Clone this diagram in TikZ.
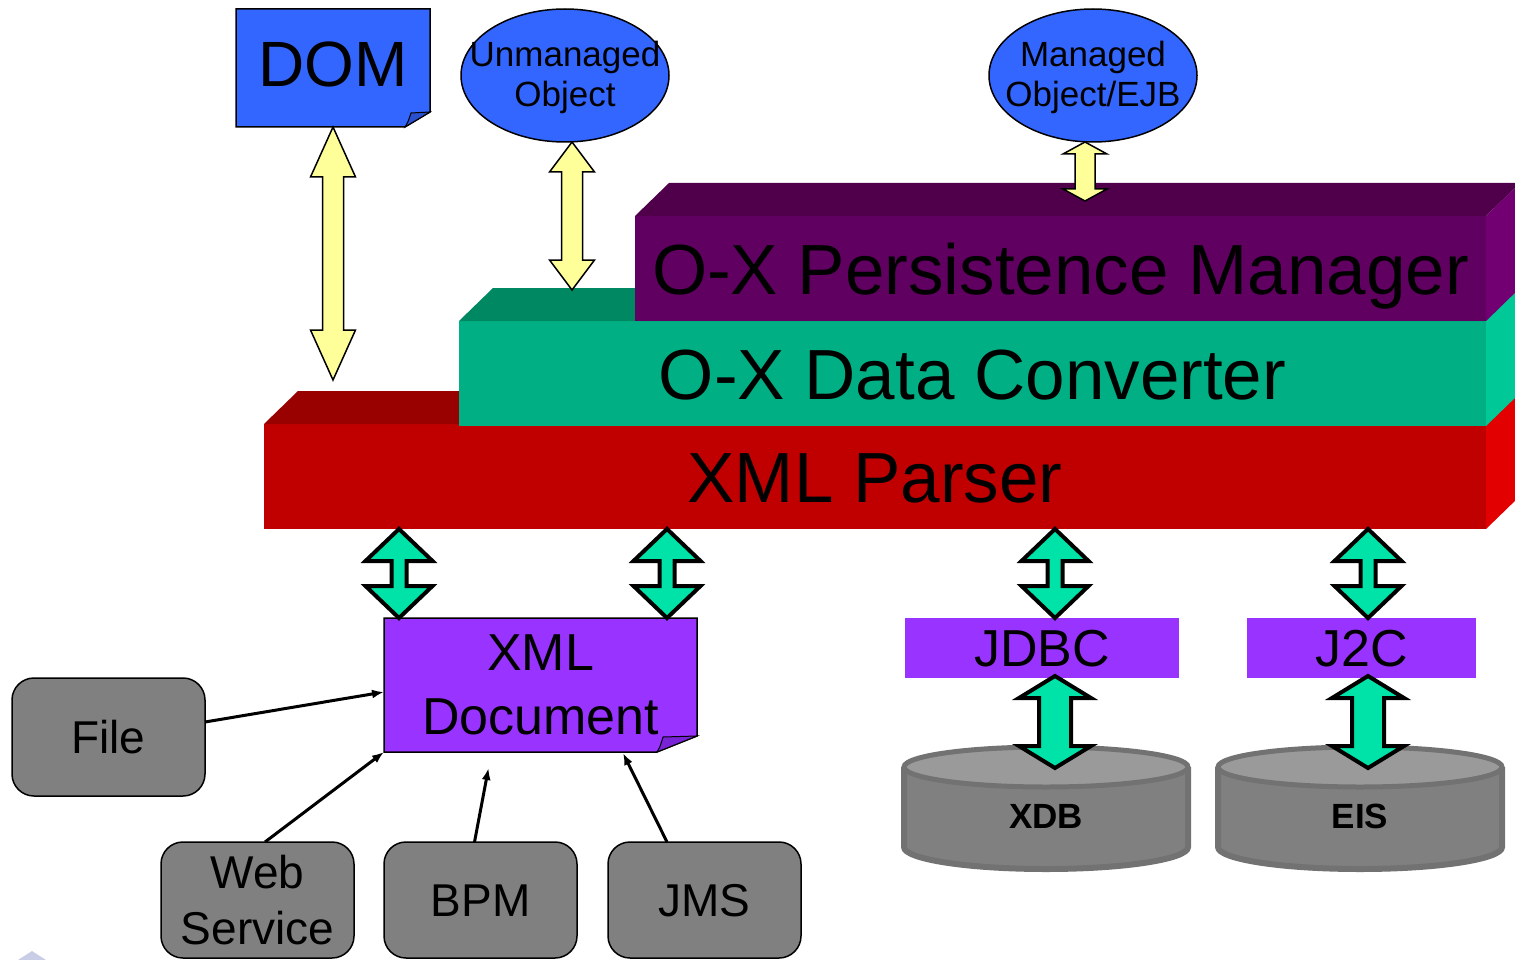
\documentclass[tikz,border=0pt]{standalone}
\usepackage{fontspec}
\setmainfont{Liberation Sans}
\usetikzlibrary{shapes.geometric,arrows.meta,calc}

\definecolor{objblue}{HTML}{3366FF}
\definecolor{foldblue}{HTML}{2A50D0}
\definecolor{pale}{HTML}{FFFF99}
\definecolor{docviolet}{HTML}{9933FF}
\definecolor{foldviolet}{HTML}{7A22D6}
\definecolor{mint}{HTML}{00E3A8}
\definecolor{redfront}{HTML}{C00000}
\definecolor{redtop}{HTML}{990000}
\definecolor{redside}{HTML}{E20000}
\definecolor{greenfront}{HTML}{00B084}
\definecolor{greentop}{HTML}{008862}
\definecolor{greenside}{HTML}{00C896}
\definecolor{plumfront}{HTML}{600060}
\definecolor{plumtop}{HTML}{50004A}
\definecolor{plumside}{HTML}{720072}
\definecolor{slate}{HTML}{808080}
\definecolor{slatelight}{HTML}{9A9A9A}
\definecolor{slateedge}{HTML}{727272}
\definecolor{haze}{HTML}{C9CEE6}

% top and right faces of a 3D slab whose front face is node #1
\newcommand\slabsides[3]{%
  \fill[#2] (#1.north west) -- ++(34,-33) -- ([shift={(34,-33)}]#1.north east) -- (#1.north east) -- cycle;
  \fill[#3] (#1.north east) -- ++(34,-33) -- ([shift={(34,-33)}]#1.south east) -- (#1.south east) -- cycle;}

% sheet with a curled bottom-right corner: nw, se, fill, fold fill, fold dx, fold dy
\newcommand\dogear[6]{%
  \path[fill=#3, draw=black, line width=1.5pt, line join=miter]
    (#1) -| ($(#2)+(0,-#6)$) -- ($(#2)+(-#5,0)$) -- (#1 |- #2) -- cycle;
  \path[fill=#4, draw=black, line width=1pt, line join=miter]
    ($(#2)+(-#5,0)$) .. controls ($(#2)+(-#5+3,-5)$) .. ($(#2)+(-#5+6,-#6+1)$)
    -- ($(#2)+(0,-#6)$) -- cycle;}

% vertical two-headed block arrow: style, top end, bottom end, half head width, head length, half shaft width
\newcommand\duplex[6]{%
  \path[#1] let \p1=(#2), \p2=(#3) in
    (\x1,\y1) -- (\x1+#4pt,\y1-#5pt) -- (\x1+#6pt,\y1-#5pt) -- (\x1+#6pt,\y2+#5pt)
    -- (\x1+#4pt,\y2+#5pt) -- (\x1,\y2) -- (\x1-#4pt,\y2+#5pt) -- (\x1-#6pt,\y2+#5pt)
    -- (\x1-#6pt,\y1-#5pt) -- (\x1-#4pt,\y1-#5pt) -- cycle;}

% database drum: top centre, name, label
\newcommand\drum[3]{%
  \path[fill=slate, draw=slateedge, line width=6pt] ($(#1)+(-142,0)$) -- ++(0,80)
    arc[start angle=180, end angle=360, x radius=142pt, y radius=22pt] -- ++(0,-80);
  \path[fill=slatelight, draw=slateedge, line width=5pt] (#1) ellipse [x radius=142pt, y radius=20pt];
  \node[font=\bfseries\fontsize{35}{40}\selectfont, text height=25pt, text depth=0pt] (#2) at ($(#1)+(0,49)$) {#3};}

\begin{document}
\begin{tikzpicture}[x=1pt,y=-1pt,
  every node/.style={inner sep=0pt, outer sep=0pt},
  layerface/.style={minimum height=105pt, anchor=north west,
    font=\fontsize{71}{80}\selectfont, text height=51pt, text depth=0pt},
  objell/.style={ellipse, draw=black, line width=1.5pt, fill=objblue,
    minimum width=208pt, minimum height=133pt},
  objtext/.style={align=center, font=\fontsize{35}{40}\selectfont},
  source/.style={draw=black, line width=1.5pt, fill=slate, rounded corners=22pt,
    minimum width=193pt, minimum height=116pt, align=center, font=\fontsize{46}{56}\selectfont},
  api/.style={fill=docviolet, minimum height=60pt, font=\fontsize{52}{60}\selectfont,
    text height=37pt, text depth=0pt},
  yellowarrow/.style={draw=black, line width=1.5pt, fill=pale, line join=miter},
  greenarrow/.style={draw=black, line width=4pt, fill=mint, line join=miter},
  feed/.style={line width=3pt, -{Latex[length=12pt,width=9pt]}},
]
\useasboundingbox (0,0) rectangle (1515,960);
\clip (0,0) rectangle (1515,960);

% stacked layers
\node[layerface, fill=redfront, minimum width=1222pt] (parser) at (264,424) {XML Parser};
\slabsides{parser}{redtop}{redside}
\node[layerface, fill=greenfront, minimum width=1027pt] (converter) at (459,321) {O-X Data Converter};
\slabsides{converter}{greentop}{greenside}
\node[layerface, fill=plumfront, minimum width=851pt] (manager) at (635,216) {O-X Persistence Manager};
\slabsides{manager}{plumtop}{plumside}

% DOM sheet
\coordinate (domnw) at (236,9);
\coordinate (domse) at (430,127);
\dogear{domnw}{domse}{objblue}{foldblue}{25}{15}
\node[minimum width=194pt, minimum height=118pt, font=\fontsize{64}{70}\selectfont,
  text height=46pt, text depth=8pt] (dom) at ($(domnw)!0.5!(domse)$) {DOM};

% objects
\node[objell] (unm) at (565,75.5) {};
\node[objtext] (unmtext) at ([yshift=-2pt]unm.center) {Unmanaged\\Object};
\node[objell] (mgd) at (1093,75.5) {};
\node[objtext] (mgdtext) at ([yshift=-2pt]mgd.center) {Managed\\Object/EJB};

% links to the layers
\duplex{yellowarrow}{dom.south}{[xshift=69pt,yshift=44pt]parser.north west}{22.5}{50}{10.5}
\duplex{yellowarrow}{[xshift=7pt]unm.south}{[xshift=113pt,yshift=31pt]converter.north west}{22.5}{30}{10.5}
\duplex{yellowarrow}{[xshift=-8pt]mgd.south}{[xshift=450pt,yshift=15pt]manager.north west}{22}{12}{10}

% XML document sheet
\coordinate (docnw) at (384,618);
\coordinate (docse) at (697,752);
\dogear{docnw}{docse}{docviolet}{foldviolet}{40}{16}
\node[minimum width=313pt, minimum height=134pt, align=center, font=\fontsize{52}{64}\selectfont]
  (xmldoc) at ($(docnw)!0.5!(docse)$) {XML\\Document};

% connectors
\node[api, minimum width=274pt] (jdbc) at (1042,648) {JDBC};
\node[api, minimum width=229pt] (j2c) at (1361.5,648) {J2C};

% stores
\coordinate (xdbtop) at (1046,767);
\coordinate (eistop) at (1360,767);
\drum{xdbtop}{xdb}{XDB}
\drum{eistop}{eis}{EIS}

% parser links
\duplex{greenarrow}{[xshift=135pt]parser.south west}{[xshift=15pt]xmldoc.north west}{33.5}{32}{7.5}
\duplex{greenarrow}{[xshift=403pt]parser.south west}{[xshift=-30pt]xmldoc.north east}{33.5}{32}{7.5}
\duplex{greenarrow}{[xshift=791pt]parser.south west}{[xshift=13pt]jdbc.north}{33.5}{32}{7.5}
\duplex{greenarrow}{[xshift=1104pt]parser.south west}{[xshift=6.5pt]j2c.north}{33.5}{32}{7.5}
\duplex{greenarrow}{[xshift=13pt,yshift=2pt]jdbc.south}{[xshift=9pt,yshift=-1pt]xdbtop}{36}{22}{16}
\duplex{greenarrow}{[xshift=6.5pt,yshift=2pt]j2c.south}{[xshift=8pt,yshift=-1pt]eistop}{36}{22}{16}

% document sources
\node[source, minimum height=118pt, text height=33pt, text depth=0pt] (file) at (108.5,737) {File};
\node[source] (web) at (257.5,900) {Web\\Service};
\node[source, text height=33pt, text depth=0pt] (bpm) at (480.5,900) {BPM};
\node[source, text height=33pt, text depth=0pt] (jms) at (704.5,900) {JMS};

\draw[feed] ([yshift=15pt]file.east) -- ([yshift=-7pt]xmldoc.west);
\draw[feed] ([xshift=7.5pt]web.north) -- (xmldoc.south west);
\draw[feed] ([xshift=-6pt]bpm.north) -- ([xshift=-52pt,yshift=-16pt]xmldoc.south);
\draw[feed] ([xshift=-37.5pt]jms.north) -- ([xshift=82.5pt,yshift=-1pt]xmldoc.south);

% corner mark
\fill[haze] (18,960) -- (32,951) -- (46,960) -- cycle;
\end{tikzpicture}
\end{document}
